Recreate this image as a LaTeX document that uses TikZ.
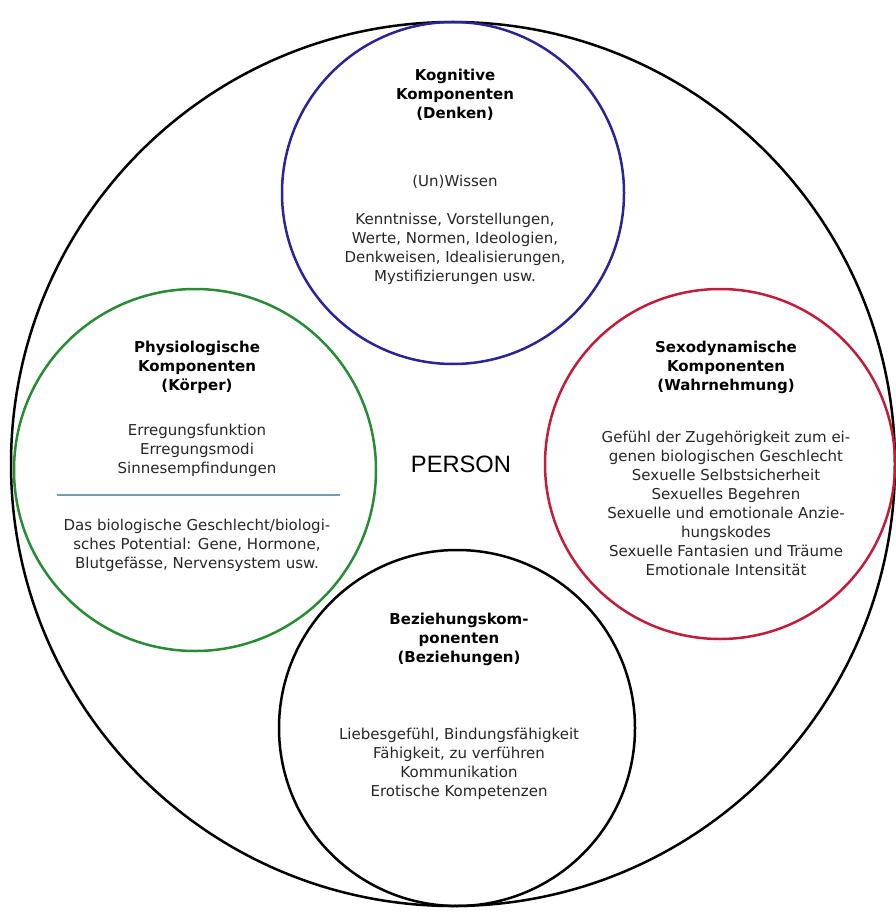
\documentclass[tikz,border=0pt]{standalone}
\usepackage{fontspec}
\setmainfont{DejaVu Sans}
\newfontfamily\arialfont{Liberation Sans}
\usetikzlibrary{positioning}
\definecolor{kogblue}{RGB}{42,36,150}
\definecolor{phygreen}{RGB}{40,140,52}
\definecolor{sexred}{RGB}{195,28,58}
\definecolor{divline}{RGB}{110,160,172}

\begin{document}
\begin{tikzpicture}[x=1pt,y=-1pt,node distance=0pt,
                    comp/.style={circle,draw=#1,line width=2.5pt,inner sep=0pt,outer sep=0pt},
                    head/.style={align=center,inner sep=0pt,font=\fontsize{15pt}{19pt}\selectfont\bfseries},
                    body/.style={align=center,inner sep=0pt,text=black!85,font=\fontsize{15pt}{19pt}\selectfont}]
                \useasboundingbox (0,0) rectangle (895,920);
                % outer circle and the four components
                \node[comp=black,minimum size=884pt] (person) at (453,464) {};
                \node[comp=kogblue,minimum size=342pt] (kog) [below=of person.north] {};
                \node[comp=phygreen,minimum size=362pt] (phy) [right=3pt of person.west,yshift=-6pt] {};
                \node[comp=sexred,minimum size=350pt] (sex) [left=of person.east] {};
                \node[comp=black,minimum size=356pt] (bez) [above=of person.south,xshift=4pt] {};

                \node[font=\arialfont\fontsize{23.7pt}{28pt}\selectfont,xshift=8pt] (label) at (person) {PERSON};

                \node[head,xshift=2pt] (kogH) [below=47pt of kog.north] {Kognitive\\Komponenten\\(Denken)};
                \node[body,xshift=2pt] (kogB) [below=153pt of kog.north] {(Un)Wissen\\[19pt]Kenntnisse, Vorstellungen,\\Werte, Normen, Ideologien,\\Denkweisen, Idealisierungen,\\Mystifizierungen usw.};

                \node[head,xshift=2pt] (phyH) [below=52pt of phy.north] {Physiologische\\Komponenten\\(Körper)};
                \node[body,xshift=2pt] (phyA) [below=135pt of phy.north] {Erregungsfunktion\\Erregungsmodi\\Sinnesempfindungen};
                \node[body,xshift=2pt] (phyB) [below=230pt of phy.north] {Das biologische Geschlecht/biologi-\\sches Potential: Gene, Hormone,\\Blutgefässe, Nervensystem usw.};
                \draw[divline,line width=1.6pt] ([shift={(-138,25)}]phy.center) -- ([shift={(145,25)}]phy.center);

                \node[head,xshift=6pt] (sexH) [below=52pt of sex.north] {Sexodynamische\\Komponenten\\(Wahrnehmung)};
                \node[body,xshift=6pt] (sexB) [below=142pt of sex.north] {Gefühl der Zugehörigkeit zum ei-\\genen biologischen Geschlecht\\Sexuelle Selbstsicherheit\\Sexuelles Begehren\\Sexuelle und emotionale Anzie-\\hungskodes\\Sexuelle Fantasien und Träume\\Emotionale Intensität};

                \node[head,xshift=2pt] (bezH) [below=63pt of bez.north] {Beziehungskom-\\ponenten\\(Beziehungen)};
                \node[body,xshift=2pt] (bezB) [below=178pt of bez.north] {Liebesgefühl, Bindungsfähigkeit\\Fähigkeit, zu verführen\\Kommunikation\\Erotische Kompetenzen};
            \end{tikzpicture}
\end{document}
